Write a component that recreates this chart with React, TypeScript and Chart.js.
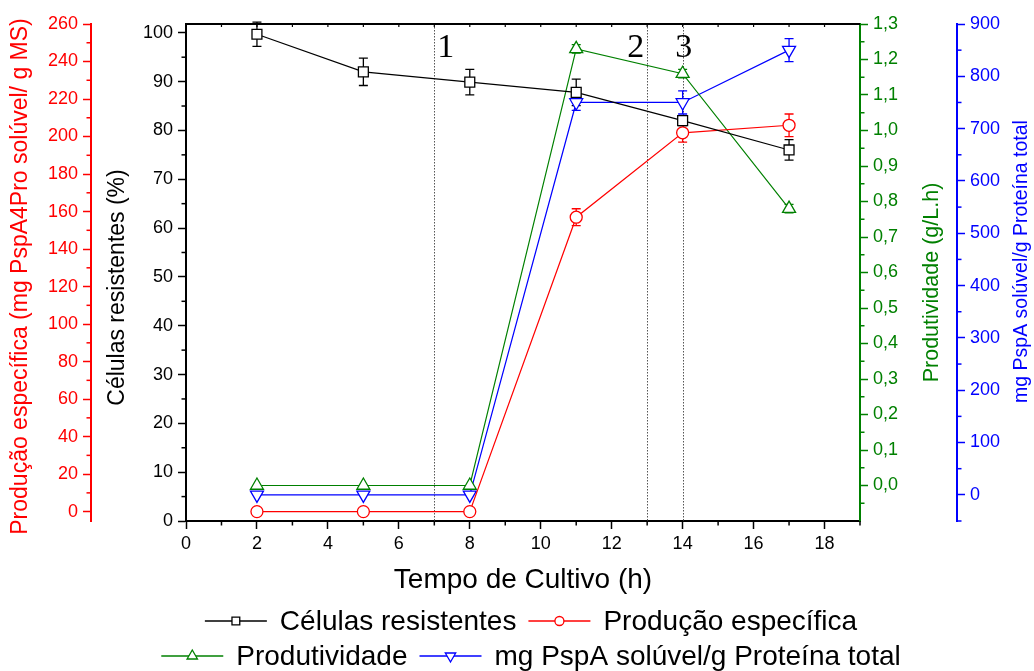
import React, { useEffect, useRef } from "react";
import { Chart, registerables } from "chart.js";

Chart.register(...registerables);

// Sampling times (h)
const tempo = [2, 5, 8, 11, 14, 17];

// Células resistentes (%)
const celulas = [99.7, 92.0, 89.9, 87.8, 82.0, 76.0];
const celulasErr = [2.5, 2.8, 2.6, 2.7, 1.0, 2.1];

// Produção específica (mg PspA4Pro solúvel / g MS)
const producao = [0, 0, 0, 157, 202, 206];
const producaoErr = [0, 0, 0, 4.5, 5, 6];

// Produtividade (g/L.h)
const produtividade = [0, 0, 0, 1.23, 1.16, 0.78];
const produtividadeErr = [0, 0, 0, 0.012, 0.012, 0.012];

// mg PspA solúvel / g proteína total
const pspa = [0, 0, 0, 750, 750, 850];
const pspaErr = [0, 0, 0, 15, 22, 22];

// Phase markers (h) and their labels
const fases = [7, 13, 14];
const faseLabels = ["1", "2", "3"];

// Tick values
const xTicks = [0, 2, 4, 6, 8, 10, 12, 14, 16, 18];
const celulasTicks = [0, 10, 20, 30, 40, 50, 60, 70, 80, 90, 100];
const producaoTicks = [0, 20, 40, 60, 80, 100, 120, 140, 160, 180, 200, 220, 240, 260];
const produtividadeTicks = [0, 0.1, 0.2, 0.3, 0.4, 0.5, 0.6, 0.7, 0.8, 0.9, 1.0, 1.1, 1.2, 1.3];
const pspaTicks = [0, 100, 200, 300, 400, 500, 600, 700, 800, 900];

const SANS = "'Liberation Sans', Arial, Helvetica, sans-serif";
const SERIF = "'Liberation Serif', 'Times New Roman', serif";

const BLACK = "#000000";
const RED = "#ff0000";
const GREEN = "#008000";
const BLUE = "#0000ff";

const errorSets = [celulasErr, producaoErr, produtividadeErr, pspaErr];

// minor tick spacing per axis
const minorSteps: Record<string, number> = { x: 1, yC: 5, yP: 10, yG: 0.05, yB: 50 };

// y-axis titles: text, size and offsets from the axis box left edge / plot middle
const yTitles: { id: string; text: string; color: string; dx: number; dy: number; size: number }[] = [
  { id: "yP", text: "Produção específica (mg PspA4Pro solúvel/ g MS)", color: RED, dx: 21, dy: 4, size: 23 },
  { id: "yC", text: "Células resistentes (%)", color: BLACK, dx: 27, dy: 15, size: 23 },
  { id: "yG", text: "Produtividade (g/L.h)", color: GREEN, dx: 72, dy: 10, size: 21.5 },
  { id: "yB", text: "mg PspA solúvel/g Proteína total", color: BLUE, dx: 65, dy: -11, size: 19.5 },
];

function serie(
  label: string,
  ys: number[],
  color: string,
  axis: string,
  pointStyle: string,
  radius: number,
  rotation = 0
) {
  return {
    label,
    data: tempo.map((x, i) => ({ x, y: ys[i] })),
    yAxisID: axis,
    borderColor: color,
    backgroundColor: "#ffffff",
    borderWidth: 1.2,
    pointStyle,
    pointRadius: radius,
    pointRotation: rotation,
    pointBackgroundColor: "#ffffff",
    pointBorderColor: color,
    pointBorderWidth: 1.3,
    tension: 0,
    fill: false,
  };
}

function yAxis(
  position: string,
  color: string,
  ticks: number[],
  min: number,
  max: number,
  width: number,
  weight: number,
  fmt: (v: number) => string
) {
  return {
    type: "linear",
    position,
    min,
    max,
    weight,
    afterBuildTicks: (s: any) => {
      s.ticks = ticks.map((v) => ({ value: v }));
    },
    afterFit: (s: any) => {
      s.width = width;
    },
    border: { display: true, color, width: 2 },
    grid: {
      drawOnChartArea: false,
      drawTicks: true,
      tickLength: 8,
      tickColor: color,
      tickWidth: 1.5,
    },
    ticks: {
      color,
      autoSkip: false,
      padding: 5,
      font: { size: 18, family: SANS },
      callback: (v: number) => fmt(v),
    },
    title: { display: false },
  };
}

function drawMarker(
  ctx: CanvasRenderingContext2D,
  style: string,
  x: number,
  y: number,
  r: number,
  color: string,
  rotation: number
) {
  ctx.beginPath();
  if (style === "rect") {
    const s = r * Math.SQRT1_2;
    ctx.rect(x - s, y - s, 2 * s, 2 * s);
  } else if (style === "circle") {
    ctx.arc(x, y, r, 0, Math.PI * 2);
  } else {
    const d = rotation === 180 ? -1 : 1;
    ctx.moveTo(x, y - d * r);
    ctx.lineTo(x + 0.866 * r, y + d * r * 0.5);
    ctx.lineTo(x - 0.866 * r, y + d * r * 0.5);
    ctx.closePath();
  }
  ctx.fillStyle = "#ffffff";
  ctx.fill();
  ctx.strokeStyle = color;
  ctx.lineWidth = 1.3;
  ctx.stroke();
}

const decor = {
  id: "decor",
  beforeDatasetsDraw(chart: any) {
    const ctx: CanvasRenderingContext2D = chart.ctx;
    const area = chart.chartArea;
    const xs = chart.scales.x;
    ctx.save();

    // dotted phase lines
    ctx.strokeStyle = "#555555";
    ctx.lineWidth = 1;
    ctx.setLineDash([1.5, 1.5]);
    fases.forEach((t) => {
      const px = Math.round(xs.getPixelForValue(t)) + 0.5;
      ctx.beginPath();
      ctx.moveTo(px, area.top);
      ctx.lineTo(px, area.bottom);
      ctx.stroke();
    });
    ctx.setLineDash([]);

    // phase numbers
    ctx.fillStyle = BLACK;
    ctx.font = `34px ${SERIF}`;
    ctx.textBaseline = "alphabetic";
    fases.forEach((t, i) => {
      const px = xs.getPixelForValue(t);
      const align = i === 0 ? "left" : i === 1 ? "right" : "center";
      const off = i === 0 ? 3 : i === 1 ? -3 : 1;
      ctx.textAlign = align as CanvasTextAlign;
      ctx.fillText(faseLabels[i], px + off, area.top + 33);
    });

    // error bars
    chart.data.datasets.forEach((ds: any, i: number) => {
      const meta = chart.getDatasetMeta(i);
      const ys = chart.scales[ds.yAxisID];
      const errs = errorSets[i];
      ctx.strokeStyle = ds.borderColor;
      ctx.lineWidth = 1.3;
      meta.data.forEach((pt: any, j: number) => {
        const e = errs[j];
        if (!e) return;
        const v = ds.data[j].y;
        const top = ys.getPixelForValue(v + e);
        const bot = ys.getPixelForValue(v - e);
        ctx.beginPath();
        ctx.moveTo(pt.x, top);
        ctx.lineTo(pt.x, bot);
        ctx.moveTo(pt.x - 4.5, top);
        ctx.lineTo(pt.x + 4.5, top);
        ctx.moveTo(pt.x - 4.5, bot);
        ctx.lineTo(pt.x + 4.5, bot);
        ctx.stroke();
      });
    });
    ctx.restore();
  },
  afterDraw(chart: any) {
    const ctx: CanvasRenderingContext2D = chart.ctx;
    const area = chart.chartArea;
    ctx.save();

    // minor ticks on every axis
    Object.keys(minorSteps).forEach((id) => {
      const s = chart.scales[id];
      const step = minorSteps[id];
      const color = s.options.border.color;
      ctx.strokeStyle = color;
      ctx.lineWidth = 1.5;
      const n0 = Math.ceil(s.min / step - 1e-9);
      const n1 = Math.floor(s.max / step + 1e-9);
      for (let n = n0; n <= n1; n++) {
        if (n % 2 === 0) continue;
        const v = n * step;
        const p = s.getPixelForValue(v);
        ctx.beginPath();
        if (id === "x") {
          ctx.moveTo(p, s.top);
          ctx.lineTo(p, s.top + 4.5);
        } else if (s.position === "left") {
          ctx.moveTo(s.right, p);
          ctx.lineTo(s.right - 4.5, p);
        } else {
          ctx.moveTo(s.left, p);
          ctx.lineTo(s.left + 4.5, p);
        }
        ctx.stroke();
      }
    });

    // top frame line with small ticks
    const xs = chart.scales.x;
    ctx.strokeStyle = BLACK;
    ctx.lineWidth = 2;
    ctx.beginPath();
    ctx.moveTo(area.left, area.top);
    ctx.lineTo(area.right, area.top);
    ctx.stroke();
    ctx.lineWidth = 1.2;
    for (let v = 1; v < xs.max; v++) {
      const p = xs.getPixelForValue(v);
      ctx.beginPath();
      ctx.moveTo(p, area.top);
      ctx.lineTo(p, area.top + 3);
      ctx.stroke();
    }

    // rotated y-axis titles
    const midY = (area.top + area.bottom) / 2;
    ctx.textAlign = "center";
    ctx.textBaseline = "middle";
    yTitles.forEach((t) => {
      const s = chart.scales[t.id];
      ctx.save();
      ctx.font = `${t.size}px ${SANS}`;
      ctx.translate(s.left + t.dx, midY + t.dy);
      ctx.rotate(-Math.PI / 2);
      ctx.fillStyle = t.color;
      ctx.fillText(t.text, 0, 0);
      ctx.restore();
    });

    // legend: two rows of line-marker-line symbols
    const rows = [
      [0, 1],
      [2, 3],
    ];
    const rowY = [chart.height - 50, chart.height - 15];
    const symW = 62;
    const gap = 13;
    const itemGap = 12;
    const cx = 531;
    const markerR: Record<string, number> = { rect: 5.5, circle: 4.5, triangle: 6 };
    ctx.font = `28px ${SANS}`;
    ctx.textBaseline = "middle";
    ctx.textAlign = "left";
    rows.forEach((row, r) => {
      const widths = row.map(
        (i) => symW + gap + ctx.measureText(chart.data.datasets[i].label).width
      );
      const total = widths.reduce((a, b) => a + b, 0) + itemGap * (row.length - 1);
      let x = cx - total / 2;
      const y = rowY[r];
      row.forEach((i, k) => {
        const ds = chart.data.datasets[i];
        ctx.strokeStyle = ds.borderColor;
        ctx.lineWidth = 1.3;
        ctx.beginPath();
        ctx.moveTo(x, y);
        ctx.lineTo(x + symW, y);
        ctx.stroke();
        drawMarker(
          ctx,
          ds.pointStyle,
          x + symW / 2,
          y,
          markerR[ds.pointStyle],
          ds.borderColor,
          ds.pointRotation
        );
        ctx.fillStyle = BLACK;
        ctx.fillText(ds.label, x + symW + gap, y + 1);
        x += widths[k] + itemGap;
      });
    });
    ctx.restore();
  },
};

export default function App() {
  const ref = useRef<HTMLCanvasElement>(null);

  useEffect(() => {
    document.body.style.margin = "0";
    Chart.defaults.font.family = SANS;
    const chart = new Chart(ref.current as HTMLCanvasElement, {
      type: "line",
      data: {
        datasets: [
          serie("Células resistentes", celulas, BLACK, "yC", "rect", 7),
          serie("Produção específica", producao, RED, "yP", "circle", 6),
          serie("Produtividade", produtividade, GREEN, "yG", "triangle", 7.5),
          serie("mg PspA solúvel/g Proteína total", pspa, BLUE, "yB", "triangle", 7.5, 180),
        ],
      } as any,
      options: {
        responsive: false,
        animation: false,
        devicePixelRatio: 1,
        layout: { padding: { top: 24, bottom: 71, left: 0, right: 0 } },
        plugins: {
          legend: { display: false },
          tooltip: { enabled: false },
        },
        scales: {
          x: {
            type: "linear",
            position: "bottom",
            min: 0,
            max: 19,
            afterBuildTicks: (s: any) => {
              s.ticks = xTicks.map((v) => ({ value: v }));
            },
            afterFit: (s: any) => {
              s.height = 79;
            },
            border: { display: true, color: BLACK, width: 2 },
            grid: {
              drawOnChartArea: false,
              drawTicks: true,
              tickLength: 8,
              tickColor: BLACK,
              tickWidth: 1.5,
            },
            ticks: {
              color: BLACK,
              autoSkip: false,
              maxRotation: 0,
              padding: 4,
              font: { size: 18, family: SANS },
            },
            title: {
              display: true,
              text: "Tempo de Cultivo (h)",
              color: BLACK,
              font: { size: 28, family: SANS },
              padding: { top: 0, bottom: 3 },
            },
          },
          yC: yAxis("left", BLACK, celulasTicks, 0, 101.8, 95, 0, (v) => String(v)),
          yP: yAxis("left", RED, producaoTicks, -5, 260, 91, 1, (v) => String(v)),
          yG: yAxis("right", GREEN, produtividadeTicks, -0.1, 1.3, 97, 0, (v) =>
            v.toFixed(1).replace(".", ",")
          ),
          yB: yAxis("right", BLUE, pspaTicks, -50, 900, 77, 1, (v) => String(v)),
        },
      } as any,
      plugins: [decor],
    });
    return () => chart.destroy();
  }, []);

  return (
    <div style={{ width: 1034, height: 671, background: "#ffffff" }}>
      <canvas ref={ref} width={1034} height={671} style={{ display: "block" }} />
    </div>
  );
}
